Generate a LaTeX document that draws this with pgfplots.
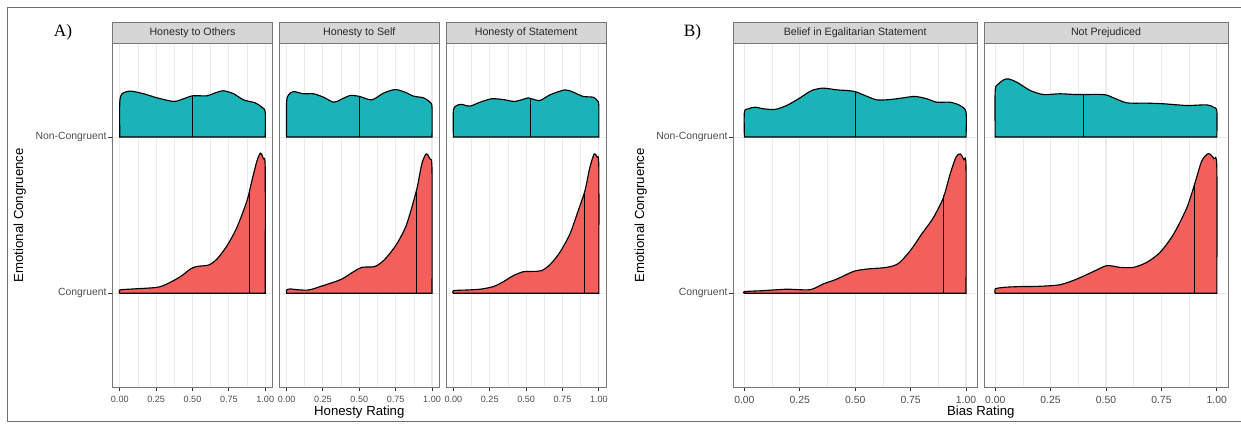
\documentclass[border=0pt]{standalone}
\usepackage{pgfplots}
\pgfplotsset{compat=1.18}
\usepackage{fontspec}
\setmainfont{Liberation Sans}
\newfontfamily\panelfont{Liberation Serif}
\definecolor{ridgeTeal}{HTML}{1AB3B7}
\definecolor{ridgeRed}{HTML}{F35F5B}
\definecolor{gridc}{HTML}{EBEBEB}
\definecolor{borderc}{HTML}{777777}
\definecolor{stripc}{HTML}{D6D6D6}
\definecolor{ticklab}{HTML}{4D4D4D}
\definecolor{framec}{HTML}{707070}

\pgfplotsset{
  facet/.style={
    scale only axis, height=257.8pt,
    xmin=-0.05, xmax=1.05, ymin=0.4, ymax=2.6,
    axis line style={borderc, line width=0.6pt},
    xtick={0,0.25,0.5,0.75,1},
    xticklabels={0.00,0.25,0.50,0.75,1.00},
    minor xtick={0.125,0.375,0.625,0.875},
    ytick={1,2},
    yticklabels={Congruent,Non-Congruent},
    xmajorgrids, xminorgrids, ymajorgrids,
    major grid style={gridc, line width=0.8pt},
    minor grid style={gridc, line width=0.4pt},
    tick align=outside, xtick pos=bottom, ytick pos=left,
    major tick length=3.2pt, minor tick length=0pt,
    tick style={black!80, line width=0.75pt},
    yticklabel style={font=\fontsize{7.8}{9}\selectfont, color=ticklab, inner xsep=1pt},
    no markers,
    every axis title/.style={at={(0.5,1)}, anchor=south, fill=stripc, draw=borderc, line width=0.6pt,
      minimum width=\pgfkeysvalueof{/pgfplots/width}, minimum height=15.45pt, inner sep=0pt,
      font=\fontsize{8}{9}\selectfont, text=black!85},
  },
  noy/.style={yticklabels={}, ytick style={draw=none}},
  ridge/.style={smooth, tension=0.45, draw=black, line width=0.85pt, fill=#1},
  med/.style={black, line width=0.75pt},
  ylab/.style={ylabel={Emotional Congruence},
    ylabel style={at={(axis description cs:#1,0.5)}, anchor=center, font=\fontsize{9.9}{11}\selectfont}},
}

\begin{document}
\begin{tikzpicture}
\useasboundingbox (0,0) rectangle (930.75pt,-318.75pt);
\draw[framec, line width=1.1pt] (930.75pt,-5.5pt) -- (5.5pt,-5.5pt) -- (5.5pt,-316.3pt) -- (930.75pt,-316.3pt);
\node[font=\panelfont\fontsize{13}{14}\selectfont] at (47.25pt,-24.5pt) {A)};
\node[font=\panelfont\fontsize{13}{14}\selectfont] at (519.4pt,-24.5pt) {B)};

% ---------- Panel A, facet 1 ----------
\begin{axis}[facet, width=120pt, at={(84.375pt,-32.475pt)}, anchor=north west,
  title={Honesty to Others}, ylab=-0.58,
  xticklabel style={font=\fontsize{6.8}{8}\selectfont, color=ticklab}]
\addplot[ridge=ridgeTeal] coordinates {(0,2) (0,2.223) (0.016,2.277) (0.073,2.294) (0.165,2.277) (0.256,2.251) (0.371,2.228) (0.439,2.245) (0.501,2.264) (0.600,2.264) (0.657,2.283) (0.714,2.296) (0.783,2.277) (0.851,2.238) (0.931,2.219) (0.977,2.191) (1,2.160) (1,2)} -- cycle;
\addplot[med] coordinates {(0.50,2) (0.50,2.264)};
\addplot[ridge=ridgeRed] coordinates {(0,1) (0,1.021) (0.096,1.028) (0.256,1.038) (0.325,1.060) (0.416,1.106) (0.485,1.155) (0.531,1.172) (0.611,1.181) (0.668,1.219) (0.737,1.304) (0.805,1.421) (0.874,1.591) (0.908,1.719) (0.943,1.847) (0.968,1.897) (0.988,1.860) (1,1.794) (1,1)} -- cycle;
\addplot[med] coordinates {(0.89,1) (0.89,1.648)};
\end{axis}

% ---------- Panel A, facet 2 ----------
\begin{axis}[facet, noy, width=120pt, at={(209.475pt,-32.475pt)}, anchor=north west,
  title={Honesty to Self},
  xticklabel style={font=\fontsize{6.8}{8}\selectfont, color=ticklab},
  xlabel={Honesty Rating},
  xlabel style={at={(axis description cs:0.5,-0.0815)}, anchor=base, font=\fontsize{9.9}{11}\selectfont}]
\addplot[ridge=ridgeTeal] coordinates {(0,2) (0,2.223) (0.014,2.270) (0.048,2.291) (0.117,2.277) (0.185,2.277) (0.254,2.255) (0.323,2.223) (0.368,2.238) (0.437,2.266) (0.501,2.260) (0.586,2.238) (0.666,2.281) (0.746,2.304) (0.815,2.287) (0.872,2.262) (0.941,2.251) (0.986,2.223) (1,2.191) (1,2)} -- cycle;
\addplot[med] coordinates {(0.50,2) (0.50,2.260)};
\addplot[ridge=ridgeRed] coordinates {(0,1) (0,1.021) (0.025,1.028) (0.071,1.023) (0.151,1.021) (0.231,1.043) (0.300,1.064) (0.380,1.091) (0.460,1.138) (0.517,1.166) (0.609,1.172) (0.677,1.219) (0.757,1.315) (0.826,1.443) (0.895,1.666) (0.929,1.826) (0.960,1.892) (0.985,1.860) (1,1.783) (1,1)} -- cycle;
\addplot[med] coordinates {(0.892,1) (0.892,1.665)};
\end{axis}

% ---------- Panel A, facet 3 ----------
\begin{axis}[facet, noy, width=120pt, at={(334.575pt,-32.475pt)}, anchor=north west,
  title={Honesty of Statement},
  xticklabel style={font=\fontsize{6.8}{8}\selectfont, color=ticklab}]
\addplot[ridge=ridgeTeal] coordinates {(0,2) (0,2.170) (0.023,2.202) (0.057,2.209) (0.114,2.198) (0.183,2.223) (0.263,2.245) (0.343,2.240) (0.423,2.228) (0.515,2.251) (0.538,2.245) (0.595,2.234) (0.664,2.270) (0.767,2.302) (0.824,2.287) (0.892,2.260) (0.961,2.255) (0.989,2.234) (1,2.202) (1,2)} -- cycle;
\addplot[med] coordinates {(0.533,2) (0.533,2.247)};
\addplot[ridge=ridgeRed] coordinates {(0,1) (0,1.017) (0.092,1.021) (0.183,1.026) (0.275,1.043) (0.343,1.074) (0.412,1.113) (0.481,1.138) (0.549,1.140) (0.606,1.145) (0.664,1.183) (0.732,1.262) (0.801,1.379) (0.858,1.528) (0.904,1.655) (0.938,1.804) (0.968,1.892) (0.987,1.872) (1,1.804) (1,1)} -- cycle;
\addplot[med] coordinates {(0.90,1) (0.90,1.645)};
\end{axis}

% ---------- Panel B, facet 1 ----------
\begin{axis}[facet, width=182.85pt, at={(549.975pt,-32.475pt)}, anchor=north west,
  title={Belief in Egalitarian Statement}, ylab=-0.38,
  xticklabel style={font=\fontsize{7.8}{9}\selectfont, color=ticklab},
  xlabel={Bias Rating},
  xlabel style={at={(axis description cs:1.015,-0.0815)}, anchor=base, font=\fontsize{9.9}{11}\selectfont}]
\addplot[ridge=ridgeTeal] coordinates {(0,2) (0,2.160) (0.018,2.181) (0.048,2.191) (0.086,2.181) (0.138,2.177) (0.191,2.202) (0.251,2.251) (0.304,2.298) (0.356,2.313) (0.417,2.302) (0.462,2.298) (0.499,2.291) (0.544,2.266) (0.597,2.238) (0.657,2.240) (0.717,2.251) (0.770,2.260) (0.823,2.245) (0.868,2.223) (0.928,2.223) (0.973,2.202) (1,2.160) (1,2)} -- cycle;
\addplot[med] coordinates {(0.50,2) (0.50,2.291)};
\addplot[ridge=ridgeRed] coordinates {(0,1) (0,1.011) (0.086,1.017) (0.191,1.026) (0.296,1.023) (0.356,1.060) (0.417,1.091) (0.492,1.140) (0.552,1.155) (0.642,1.166) (0.695,1.191) (0.748,1.272) (0.800,1.379) (0.853,1.485) (0.898,1.613) (0.928,1.762) (0.955,1.872) (0.974,1.892) (0.990,1.855) (1,1.804) (1,1)} -- cycle;
\addplot[med] coordinates {(0.90,1) (0.90,1.63)};
\end{axis}

% ---------- Panel B, facet 2 ----------
\begin{axis}[facet, noy, width=182.85pt, at={(738.075pt,-32.475pt)}, anchor=north west,
  title={Not Prejudiced},
  xticklabel style={font=\fontsize{7.8}{9}\selectfont, color=ticklab}]
\addplot[ridge=ridgeTeal] coordinates {(0,2) (0,2.298) (0.015,2.340) (0.038,2.366) (0.060,2.372) (0.098,2.351) (0.158,2.298) (0.218,2.272) (0.293,2.277) (0.368,2.272) (0.489,2.272) (0.534,2.251) (0.594,2.219) (0.684,2.217) (0.759,2.213) (0.865,2.202) (0.955,2.206) (0.985,2.191) (1,2.166) (1,2)} -- cycle;
\addplot[med] coordinates {(0.40,2) (0.40,2.272)};
\addplot[ridge=ridgeRed] coordinates {(0,1) (0,1.028) (0.038,1.038) (0.113,1.043) (0.203,1.045) (0.293,1.055) (0.368,1.091) (0.444,1.140) (0.504,1.177) (0.564,1.166) (0.624,1.166) (0.684,1.198) (0.744,1.262) (0.805,1.379) (0.865,1.549) (0.902,1.709) (0.932,1.847) (0.962,1.894) (0.987,1.862) (1,1.804) (1,1)} -- cycle;
\addplot[med] coordinates {(0.90,1) (0.90,1.70)};
\end{axis}
\end{tikzpicture}
\end{document}
